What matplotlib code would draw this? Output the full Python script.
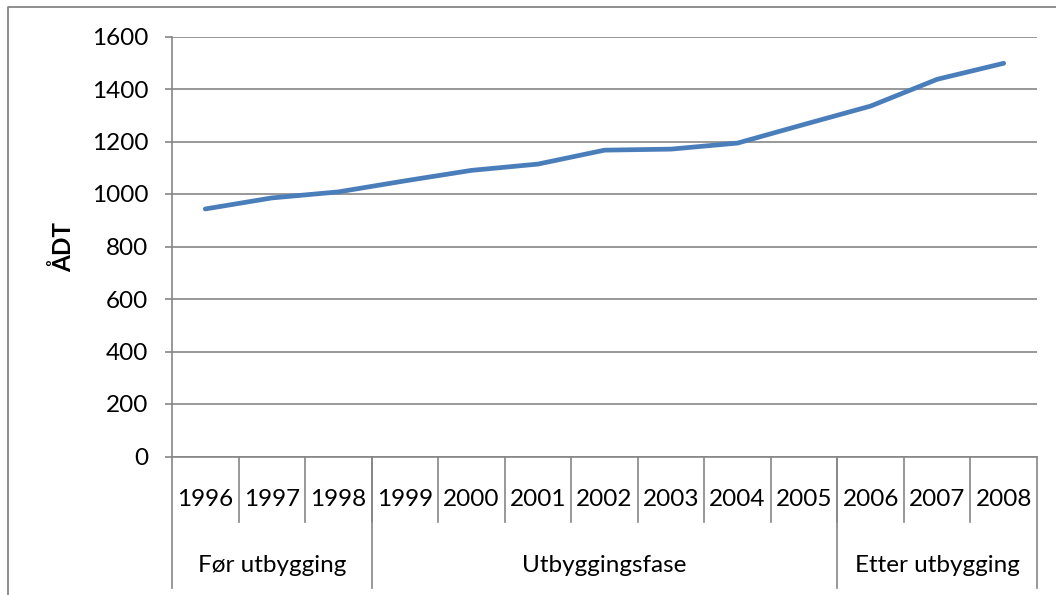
import matplotlib
matplotlib.use('Agg')
import matplotlib.pyplot as plt
from matplotlib.lines import Line2D

# data
years = ['1996', '1997', '1998', '1999', '2000', '2001', '2002',
         '2003', '2004', '2005', '2006', '2007', '2008']
adt = [943, 985, 1008, 1050, 1090, 1114, 1167, 1171, 1194, 1265, 1335, 1437, 1498]
phases = ['Før utbygging', 'Utbyggingsfase', 'Etter utbygging']
phase_sizes = [3, 7, 3]
y_ticks = [0, 200, 400, 600, 800, 1000, 1200, 1400, 1600]

plt.rcParams['font.family'] = ['Lato', 'DejaVu Sans']
grey = '#868686'
W, H = 1056, 595
fs = 17.5

fig = plt.figure(figsize=(W / 100, H / 100), dpi=100)

# plot area in pixels: x 172..1037, y 36.5..456.5
left, right, top, bottom = 172, 1037, 36.5, 456.5
ax = fig.add_axes([left / W, 1 - bottom / H, (right - left) / W, (bottom - top) / H])

x = list(range(len(years)))
ax.plot(x, adt, color='#4a7ebb', linewidth=3.4, solid_capstyle='round', zorder=3)

ax.set_xlim(-0.5, len(years) - 0.5)
ax.set_ylim(0, 1600)
ax.set_yticks(y_ticks)
ax.yaxis.grid(True, color=grey, linewidth=1.2)
ax.set_axisbelow(True)
ax.tick_params(axis='y', length=5, width=1.2, color=grey, pad=12, labelsize=fs)
ax.set_xticks([])
for s in ['top', 'right']:
    ax.spines[s].set_visible(False)
for s in ['left', 'bottom']:
    ax.spines[s].set_color(grey)
    ax.spines[s].set_linewidth(1.2)
ax.set_ylabel('ÅDT', fontsize=fs, fontweight='bold', labelpad=12)

# multi-level category axis
tr = ax.get_xaxis_transform()
ph = bottom - top
inner = -(522 - bottom) / ph
outer = -(588 - bottom) / ph
year_y = -(499 - bottom) / ph
phase_y = -(565 - bottom) / ph

for i in range(1, len(years)):
    ax.plot([i - 0.5, i - 0.5], [0, inner], transform=tr, color=grey, lw=1.2, clip_on=False)
for i, yr in enumerate(years):
    ax.text(i, year_y, yr, transform=tr, ha='center', va='center', fontsize=fs)

start = 0
bounds = [0]
for name, n in zip(phases, phase_sizes):
    ax.text(start + n / 2 - 0.5, phase_y, name, transform=tr, ha='center', va='center', fontsize=fs)
    start += n
    bounds.append(start)
for b in bounds:
    ax.plot([b - 0.5, b - 0.5], [0, outer], transform=tr, color=grey, lw=1.2, clip_on=False)

# chart area border (cropped)
fig.add_artist(Line2D([8 / W, 8 / W, 1.0], [0.0, 1 - 7 / H, 1 - 7 / H],
                      transform=fig.transFigure, color=grey, lw=1.3))

fig.savefig('out.png', dpi=100)
